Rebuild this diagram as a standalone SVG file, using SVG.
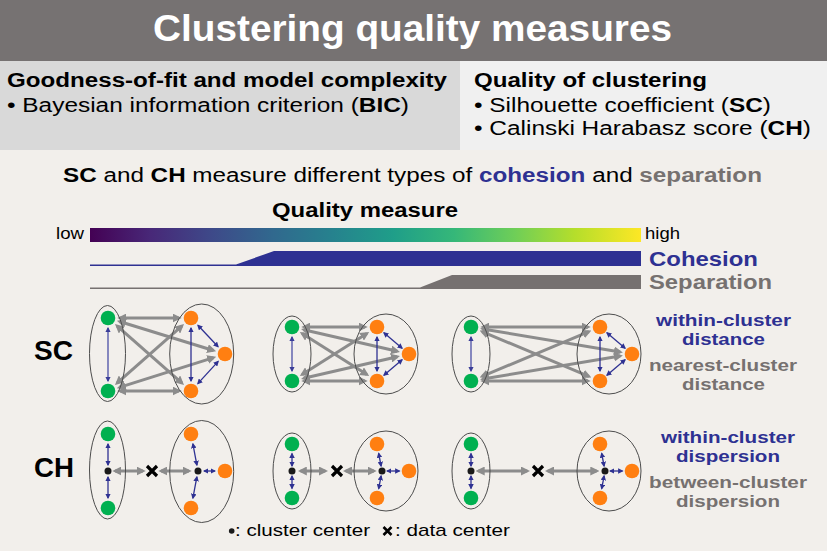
<svg xmlns="http://www.w3.org/2000/svg" width="827" height="551" viewBox="0 0 827 551">
  <defs>
    <linearGradient id="viridis" x1="0" y1="0" x2="1" y2="0">
      <stop offset="0" stop-color="#440154"/>
      <stop offset="0.11" stop-color="#482878"/>
      <stop offset="0.22" stop-color="#3e4989"/>
      <stop offset="0.33" stop-color="#31688e"/>
      <stop offset="0.44" stop-color="#26828e"/>
      <stop offset="0.55" stop-color="#1f9e89"/>
      <stop offset="0.66" stop-color="#35b779"/>
      <stop offset="0.77" stop-color="#6ece58"/>
      <stop offset="0.88" stop-color="#b5de2b"/>
      <stop offset="1" stop-color="#fde725"/>
    </linearGradient>
    <marker id="ag" viewBox="0 0 10 10" refX="7" refY="5" markerWidth="9" markerHeight="9" markerUnits="userSpaceOnUse" orient="auto-start-reverse">
      <path d="M0,0 L10,5 L0,10 z" fill="#8c8c8c"/>
    </marker>
    <marker id="ab" viewBox="0 0 10 10" refX="8" refY="5" markerWidth="5.5" markerHeight="5.5" markerUnits="userSpaceOnUse" orient="auto-start-reverse">
      <path d="M0,0 L10,5 L0,10 z" fill="#2e3192"/>
    </marker>
    <marker id="al" viewBox="0 0 10 10" refX="8" refY="5" markerWidth="5.5" markerHeight="5.5" markerUnits="userSpaceOnUse" orient="auto-start-reverse">
      <path d="M0,0 L10,5 L0,10 z" fill="#3a3d98"/>
    </marker>
    <style>
      text { font-family: "Liberation Sans", Arial, sans-serif; }
      .b { font-weight: bold; }
      .blue { fill: #2e3192; }
      .grey { fill: #767170; }
      .g { fill: #00b050; }
      .o { fill: #ff7f11; }
      .c { fill: #1a1a1a; }
      .cl { fill: none; stroke: #4d4d4d; stroke-width: 1; }
      .ga { fill: none; stroke: #8c8c8c; stroke-width: 3; marker-start: url(#ag); marker-end: url(#ag); }
      .ba { fill: none; stroke: #2e3192; stroke-width: 1.3; marker-start: url(#ab); marker-end: url(#ab); }
      .la { fill: none; stroke: #6a6db3; stroke-width: 1.6; marker-start: url(#al); marker-end: url(#al); }
      .x { fill: none; stroke: #000; stroke-width: 3.2; }
      .lbl { font-size: 17px; font-weight: bold; }
    </style>
  </defs>

  <!-- page background -->
  <rect x="0" y="0" width="827" height="551" fill="#f2efeb"/>

  <!-- title bar -->
  <g id="title">
    <rect x="0" y="0" width="827" height="61" fill="#767272"/>
    <text x="153" y="41" font-size="36" class="b" fill="#ffffff" textLength="519" lengthAdjust="spacingAndGlyphs">Clustering quality measures</text>
  </g>

  <!-- header boxes -->
  <g id="fit-box">
    <rect x="0" y="61" width="460" height="89" fill="#d9d9d9"/>
    <text x="7" y="87" font-size="20" class="b" textLength="440" lengthAdjust="spacingAndGlyphs">Goodness-of-fit and model complexity</text>
    <text x="7" y="112" font-size="20" textLength="402" lengthAdjust="spacingAndGlyphs">• Bayesian information criterion (<tspan class="b">BIC</tspan>)</text>
  </g>
  <g id="quality-box">
    <rect x="460" y="61" width="367" height="89" fill="#f0f0f0"/>
    <text x="474" y="87" font-size="20" class="b" textLength="233" lengthAdjust="spacingAndGlyphs">Quality of clustering</text>
    <text x="474" y="112" font-size="20" textLength="297" lengthAdjust="spacingAndGlyphs">• Silhouette coefficient (<tspan class="b">SC</tspan>)</text>
    <text x="474" y="135" font-size="20" textLength="337" lengthAdjust="spacingAndGlyphs">• Calinski Harabasz score (<tspan class="b">CH</tspan>)</text>
  </g>

  <!-- subtitle -->
  <text id="subtitle" x="63" y="182" font-size="20" textLength="699" lengthAdjust="spacingAndGlyphs"><tspan class="b">SC</tspan> and <tspan class="b">CH</tspan> measure different types of <tspan class="b blue">cohesion</tspan> and <tspan class="b grey">separation</tspan></text>

  <!-- quality scale -->
  <g id="scale">
    <text x="272" y="217" font-size="20" class="b" textLength="186" lengthAdjust="spacingAndGlyphs">Quality measure</text>
    <text x="56" y="239" font-size="17" textLength="28" lengthAdjust="spacingAndGlyphs">low</text>
    <rect x="90" y="228" width="551" height="14" fill="url(#viridis)"/>
    <text x="645" y="239" font-size="17" textLength="35" lengthAdjust="spacingAndGlyphs">high</text>
    <path d="M90,264.5 L236,264.5 L274,251 L641,251 L641,266 L90,266 Z" fill="#2e3192"/>
    <text x="649" y="266" font-size="20.5" class="b blue" textLength="109" lengthAdjust="spacingAndGlyphs">Cohesion</text>
    <path d="M90,287.5 L420,287.5 L452,275 L641,275 L641,289 L90,289 Z" fill="#767170"/>
    <text x="649" y="289" font-size="20.5" class="b grey" textLength="123" lengthAdjust="spacingAndGlyphs">Separation</text>
  </g>

  <!-- row labels -->
  <text id="label-sc" x="34" y="360" font-size="27" class="b" textLength="39" lengthAdjust="spacingAndGlyphs">SC</text>
  <text id="label-ch" x="34" y="477" font-size="27" class="b" textLength="40" lengthAdjust="spacingAndGlyphs">CH</text>

  <!-- connectors -->
  <g id="connectors">
    <!-- SC, example 1: between-cluster distances -->
    <line class="ga" x1="120" y1="318" x2="179" y2="318"/>
    <line class="ga" x1="119.5" y1="321.5" x2="213.5" y2="350.5"/>
    <line class="ga" x1="117" y1="325.9" x2="182" y2="383.1"/>
    <line class="ga" x1="117" y1="383.1" x2="182" y2="325.9"/>
    <line class="ga" x1="119.4" y1="387.4" x2="213.6" y2="357.6"/>
    <line class="ga" x1="120" y1="391" x2="179" y2="391"/>
    <!-- SC, example 1: within-cluster distances -->
    <line class="la" x1="108" y1="328" x2="108" y2="381"/>
    <line class="ba" x1="191" y1="328" x2="191" y2="381"/>
    <line class="ba" x1="197.9" y1="325.3" x2="218.1" y2="346.7"/>
    <line class="ba" x1="218.2" y1="361.4" x2="197.8" y2="383.6"/>

    <!-- SC, example 2 -->
    <line class="ga" x1="304" y1="327" x2="365" y2="327"/>
    <line class="ga" x1="303.7" y1="329.7" x2="397.3" y2="351.3"/>
    <line class="ga" x1="302.1" y1="333.4" x2="366.9" y2="374.6"/>
    <line class="ga" x1="302.1" y1="374.6" x2="366.9" y2="333.4"/>
    <line class="ga" x1="303.7" y1="378.3" x2="397.3" y2="356.7"/>
    <line class="ga" x1="304" y1="381" x2="365" y2="381"/>
    <line class="la" x1="292" y1="337" x2="292" y2="371"/>
    <line class="ba" x1="377" y1="337" x2="377" y2="371"/>
    <line class="ba" x1="383.9" y1="332.8" x2="402.1" y2="348.2"/>
    <line class="ba" x1="402.1" y1="359.8" x2="383.9" y2="375.2"/>

    <!-- SC, example 3 -->
    <line class="ga" x1="483" y1="327" x2="588" y2="327"/>
    <line class="ga" x1="482.8" y1="329" x2="620.2" y2="352"/>
    <line class="ga" x1="482.1" y1="331.6" x2="588.9" y2="376.4"/>
    <line class="ga" x1="482.1" y1="376.4" x2="588.9" y2="331.6"/>
    <line class="ga" x1="482.8" y1="379" x2="620.2" y2="356"/>
    <line class="ga" x1="483" y1="381" x2="588" y2="381"/>
    <line class="la" x1="471" y1="337" x2="471" y2="371"/>
    <line class="ba" x1="600" y1="337" x2="600" y2="371"/>
    <line class="ba" x1="606.9" y1="332.8" x2="625.1" y2="348.2"/>
    <line class="ba" x1="625.1" y1="359.8" x2="606.9" y2="375.2"/>

    <!-- CH, example 1 -->
    <line class="ga" x1="115" y1="471" x2="143" y2="471"/>
    <line class="ga" x1="161" y1="471" x2="189" y2="471"/>
    <line class="ba" x1="108" y1="465" x2="108" y2="444"/>
    <line class="ba" x1="108" y1="477" x2="108" y2="498"/>
    <line class="ba" x1="196.9" y1="465.1" x2="192.9" y2="443.8"/>
    <line class="ba" x1="196.9" y1="476.9" x2="192.9" y2="498.2"/>
    <line class="ba" x1="204" y1="471" x2="215" y2="471"/>

    <!-- CH, example 2 -->
    <line class="ga" x1="300.5" y1="471" x2="325.3" y2="471"/>
    <line class="ga" x1="345.7" y1="471" x2="374" y2="471"/>
    <line class="ba" x1="292" y1="466" x2="292" y2="453.5"/>
    <line class="ba" x1="292" y1="476" x2="292" y2="488.5"/>
    <line class="ba" x1="381.1" y1="466.1" x2="378.7" y2="453.3"/>
    <line class="ba" x1="381.1" y1="475.9" x2="378.7" y2="488.7"/>
    <line class="ba" x1="387" y1="471" x2="399.5" y2="471"/>

    <!-- CH, example 3 -->
    <line class="ga" x1="478.4" y1="471" x2="527.3" y2="471"/>
    <line class="ga" x1="547.7" y1="471" x2="596.6" y2="471"/>
    <line class="ba" x1="471" y1="466" x2="471" y2="453.5"/>
    <line class="ba" x1="471" y1="476" x2="471" y2="488.5"/>
    <line class="ba" x1="604.1" y1="466.1" x2="601.7" y2="453.3"/>
    <line class="ba" x1="604.1" y1="475.9" x2="601.7" y2="488.7"/>
    <line class="ba" x1="610" y1="471" x2="622.5" y2="471"/>
  </g>

  <!-- SC clusters -->
  <g id="sc1-green">
    <ellipse class="cl" cx="107.5" cy="353.5" rx="18" ry="48"/>
    <circle class="g" cx="108" cy="318" r="7.3"/>
    <circle class="g" cx="108" cy="391" r="7.3"/>
  </g>
  <g id="sc1-orange">
    <ellipse class="cl" cx="201.7" cy="354" rx="32" ry="50"/>
    <circle class="o" cx="191" cy="318" r="7.3"/>
    <circle class="o" cx="225" cy="354" r="7.3"/>
    <circle class="o" cx="191" cy="391" r="7.3"/>
  </g>
  <g id="sc2-green">
    <ellipse class="cl" cx="292" cy="354" rx="19" ry="38"/>
    <circle class="g" cx="292" cy="327" r="7.3"/>
    <circle class="g" cx="292" cy="381" r="7.3"/>
  </g>
  <g id="sc2-orange">
    <ellipse class="cl" cx="386" cy="354" rx="32" ry="40"/>
    <circle class="o" cx="377" cy="327" r="7.3"/>
    <circle class="o" cx="409" cy="354" r="7.3"/>
    <circle class="o" cx="377" cy="381" r="7.3"/>
  </g>
  <g id="sc3-green">
    <ellipse class="cl" cx="471" cy="354" rx="19" ry="38"/>
    <circle class="g" cx="471" cy="327" r="7.3"/>
    <circle class="g" cx="471" cy="381" r="7.3"/>
  </g>
  <g id="sc3-orange">
    <ellipse class="cl" cx="609" cy="354" rx="32" ry="40"/>
    <circle class="o" cx="600" cy="327" r="7.3"/>
    <circle class="o" cx="632" cy="354" r="7.3"/>
    <circle class="o" cx="600" cy="381" r="7.3"/>
  </g>

  <!-- CH clusters -->
  <g id="ch1-green">
    <ellipse class="cl" cx="107.5" cy="470" rx="18" ry="49"/>
    <circle class="g" cx="108" cy="434" r="7.3"/>
    <circle class="g" cx="108" cy="508" r="7.3"/>
    <circle class="c" cx="108" cy="471" r="3.5"/>
  </g>
  <g id="ch1-orange">
    <ellipse class="cl" cx="201.7" cy="471.5" rx="32" ry="51"/>
    <circle class="o" cx="191" cy="434" r="7.3"/>
    <circle class="o" cx="225" cy="471" r="7.3"/>
    <circle class="o" cx="191" cy="508" r="7.3"/>
    <circle class="c" cx="198" cy="471" r="3.5"/>
  </g>
  <g id="ch1-center">
    <path class="x" d="M147,466 L157,476 M157,466 L147,476"/>
  </g>
  <g id="ch2-green">
    <ellipse class="cl" cx="292" cy="471" rx="19" ry="38"/>
    <circle class="g" cx="292" cy="444" r="7.3"/>
    <circle class="g" cx="292" cy="498" r="7.3"/>
    <circle class="c" cx="292" cy="471" r="3.5"/>
  </g>
  <g id="ch2-orange">
    <ellipse class="cl" cx="386" cy="471" rx="32" ry="40"/>
    <circle class="o" cx="377" cy="444" r="7.3"/>
    <circle class="o" cx="409" cy="471" r="7.3"/>
    <circle class="o" cx="377" cy="498" r="7.3"/>
    <circle class="c" cx="382" cy="471" r="3.5"/>
  </g>
  <g id="ch2-center">
    <path class="x" d="M332,466 L342,476 M342,466 L332,476"/>
  </g>
  <g id="ch3-green">
    <ellipse class="cl" cx="471" cy="471" rx="19" ry="38"/>
    <circle class="g" cx="471" cy="444" r="7.3"/>
    <circle class="g" cx="471" cy="498" r="7.3"/>
    <circle class="c" cx="471" cy="471" r="3.5"/>
  </g>
  <g id="ch3-orange">
    <ellipse class="cl" cx="609" cy="471" rx="32" ry="40"/>
    <circle class="o" cx="600" cy="444" r="7.3"/>
    <circle class="o" cx="632" cy="471" r="7.3"/>
    <circle class="o" cx="600" cy="498" r="7.3"/>
    <circle class="c" cx="605" cy="471" r="3.5"/>
  </g>
  <g id="ch3-center">
    <path class="x" d="M533,466 L543,476 M543,466 L533,476"/>
  </g>

  <!-- side labels -->
  <g id="sc-legend">
    <text class="lbl blue" x="656" y="326" textLength="135" lengthAdjust="spacingAndGlyphs">within-cluster</text>
    <text class="lbl blue" x="682" y="345" textLength="83" lengthAdjust="spacingAndGlyphs">distance</text>
    <text class="lbl grey" x="649" y="371" textLength="148" lengthAdjust="spacingAndGlyphs">nearest-cluster</text>
    <text class="lbl grey" x="682" y="390" textLength="83" lengthAdjust="spacingAndGlyphs">distance</text>
  </g>
  <g id="ch-legend">
    <text class="lbl blue" x="661" y="443" textLength="134" lengthAdjust="spacingAndGlyphs">within-cluster</text>
    <text class="lbl blue" x="676" y="462" textLength="104" lengthAdjust="spacingAndGlyphs">dispersion</text>
    <text class="lbl grey" x="649" y="488" textLength="158" lengthAdjust="spacingAndGlyphs">between-cluster</text>
    <text class="lbl grey" x="676" y="507" textLength="104" lengthAdjust="spacingAndGlyphs">dispersion</text>
  </g>

  <!-- symbol key -->
  <g id="key">
    <circle class="c" cx="231.7" cy="531" r="2.8"/>
    <text x="235" y="536" font-size="17" textLength="135" lengthAdjust="spacingAndGlyphs">: cluster center</text>
    <path d="M383.5,527 L391.5,535 M391.5,527 L383.5,535" fill="none" stroke="#000" stroke-width="2.6"/>
    <text x="395" y="536" font-size="17" textLength="115" lengthAdjust="spacingAndGlyphs">: data center</text>
  </g>
</svg>
